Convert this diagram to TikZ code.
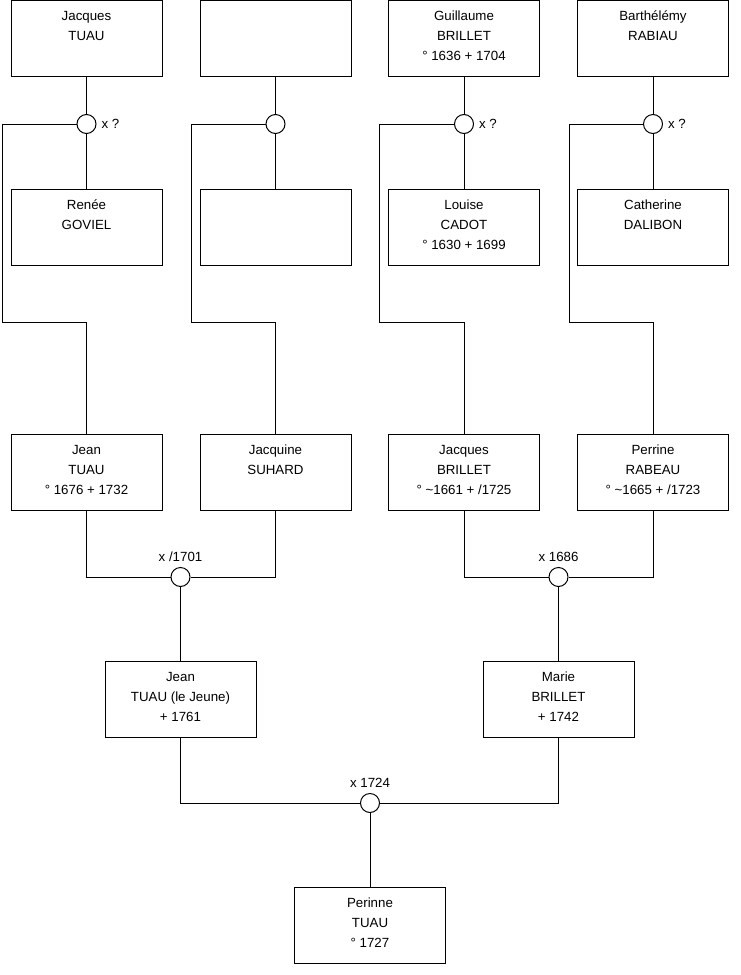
\documentclass[tikz,border=0pt]{standalone}
\usepackage{fontspec}
\setmainfont{Liberation Sans}
\usetikzlibrary{positioning}
\newcommand{\card}[1]{\parbox[c][76pt][t]{151pt}{\centering\rule{0pt}{20.3pt}#1}}

\begin{document}
\begin{tikzpicture}[x=1pt,y=-1pt,line width=1pt,
  font=\fontsize{13.3}{20}\selectfont,
  person/.style={draw,fill=white,inner sep=0pt},
  wed/.style={draw,fill=white,circle,inner sep=0pt,minimum size=19pt},
  wedq/.style={wed,label={[inner sep=0pt,label distance=4.5pt]right:x ?}},
  wedy/.style={wed,label={[inner sep=0pt,label distance=5pt]above:#1}}]
 \useasboundingbox (0,0) rectangle (740,975);
 % grands-parents
 \node[person] (jacquesT) at (86.5,38) {\card{Jacques\\TUAU}};
 \node[person] (inconnu) at (275.5,38) {\card{}};
 \node[person] (guillaume) at (464,38) {\card{Guillaume\\BRILLET\\° 1636 + 1704}};
 \node[person] (barthelemy) at (653,38) {\card{Barthélémy\\RABIAU}};
 \node[person] (renee) at (86.5,227) {\card{Renée\\GOVIEL}};
 \node[person] (inconnue) at (275.5,227) {\card{}};
 \node[person] (louise) at (464,227) {\card{Louise\\CADOT\\° 1630 + 1699}};
 \node[person] (catherine) at (653,227) {\card{Catherine\\DALIBON}};
 \node[wedq] (m1) at (86.5,124) {};
 \node[wed] (m2) at (275.5,124) {};
 \node[wedq] (m3) at (464,124) {};
 \node[wedq] (m4) at (653,124) {};
 \coordinate (b1) at (2,322);
 \coordinate (b2) at (191,322);
 \coordinate (b3) at (379,322);
 \coordinate (b4) at (569,322);
 % parents
 \node[person] (jean) at (86.5,472.5) {\card{Jean\\TUAU\\° 1676 + 1732}};
 \node[person] (jacquine) at (275.5,472.5) {\card{Jacquine\\SUHARD}};
 \node[person] (jacques) at (464,472.5) {\card{Jacques\\BRILLET\\° \textasciitilde1661 + /1725}};
 \node[person] (perrine) at (653,472.5) {\card{Perrine\\RABEAU\\° \textasciitilde1665 + /1723}};
 \node[wedy={x /1701}] (m5) at (180.5,577) {};
 \node[wedy={x 1686}] (m6) at (558.5,577) {};
 \node[person] (jeune) at (180.5,699.5) {\card{Jean\\TUAU (le Jeune)\\+ 1761}};
 \node[person] (marie) at (558.5,699.5) {\card{Marie\\BRILLET\\+ 1742}};
 \node[wedy={x 1724}] (m7) at (370,803) {};
 \node[person] (perinne) at (370,925.5) {\card{Perinne\\TUAU\\° 1727}};

 \foreach \hus/\m/\wif/\b/\kid in {jacquesT/m1/renee/b1/jean,inconnu/m2/inconnue/b2/jacquine,
   guillaume/m3/louise/b3/jacques,barthelemy/m4/catherine/b4/perrine} {
  \draw (\hus.south) -- (\m.north);
  \draw (\m.south) -- (\wif.north);
  \draw (\m.west) -| (\b) -| (\kid.north);
 }
 \draw (jean.south) |- (m5.west);
 \draw (jacquine.south) |- (m5.east);
 \draw (m5.south) -- (jeune.north);
 \draw (jacques.south) |- (m6.west);
 \draw (perrine.south) |- (m6.east);
 \draw (m6.south) -- (marie.north);
 \draw (jeune.south) |- (m7.west);
 \draw (marie.south) |- (m7.east);
 \draw (m7.south) -- (perinne.north);
\end{tikzpicture}
\end{document}
